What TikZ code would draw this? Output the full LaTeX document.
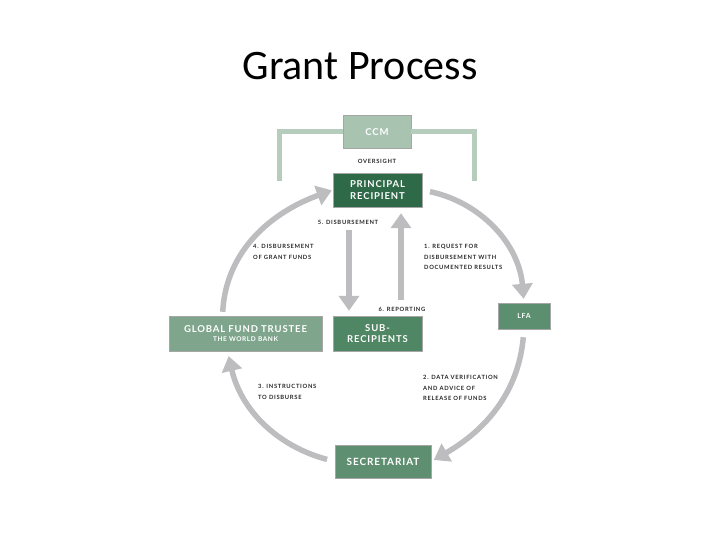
\documentclass[tikz,border=0pt]{standalone}
\usepackage{fontspec}
\usepackage{xcolor}
\usepackage{tikz}
\usetikzlibrary{shapes,arrows.meta,positioning}
\newfontfamily\titlefont{Carlito}
\newfontfamily\boxfont[LetterSpace=9]{Lato}
\newfontfamily\tagfont[LetterSpace=12]{Lato}

\definecolor{ccmgreen}{HTML}{A9C3B1}
\definecolor{prgreen}{HTML}{2E6A48}
\definecolor{trgreen}{HTML}{7FA68D}
\definecolor{subgreen}{HTML}{4F8663}
\definecolor{lfagreen}{HTML}{5B8F6F}
\definecolor{secgreen}{HTML}{5F8F71}
\definecolor{flowgray}{HTML}{BDBDC0}
\definecolor{tagdark}{HTML}{262626}

\begin{document}
\begin{tikzpicture}[x=1pt, y=-1pt,
    box/.style={rectangle, draw=black!35, line width=0.4pt, text=white, align=center, inner sep=0pt,
                font=\boxfont\bfseries\fontsize{9.5}{11.5}\selectfont},
    tag/.style={align=left, anchor=west, inner sep=0pt, text=tagdark,
                font=\tagfont\bfseries\fontsize{5.8}{10.3}\selectfont},
    flow/.style={draw=flowgray, line width=5.5pt, -{Triangle[length=15pt, width=20pt]}},
    bracket/.style={draw=ccmgreen!85, line width=5pt}
]
\useasboundingbox (0,0) rectangle (720,540);

\node[anchor=base, font=\titlefont\fontsize{42}{48}\selectfont] (title) at (360,80) {Grant Process};

% boxes
\node[box, fill=ccmgreen, minimum width=68pt, minimum height=33pt] (ccm) at (377,132) {CCM};
\node[box, fill=prgreen, minimum width=89pt, minimum height=34pt] (pr) at (377.5,190) {PRINCIPAL\\RECIPIENT};
\node[box, fill=trgreen, minimum width=153pt, minimum height=35pt] (trustee) at (245.5,333.5)
    {GLOBAL FUND TRUSTEE\\[-2pt]{\fontsize{6.5}{7.5}\selectfont THE WORLD BANK}};
\node[box, fill=subgreen, minimum width=89pt, minimum height=35pt] (sub) at (377.5,333.5) {SUB-\\RECIPIENTS};
\node[box, fill=lfagreen, minimum width=52pt, minimum height=26pt, font=\boxfont\bfseries\fontsize{7}{8}\selectfont] (lfa) at (524,316) {LFA};
\node[box, fill=secgreen, minimum width=96pt, minimum height=33pt, font=\boxfont\bfseries\fontsize{10}{12}\selectfont] (sec) at (383,461.5) {SECRETARIAT};

% oversight bracket
\coordinate (bl) at (279,181);
\coordinate (br) at (474.5,181);
\draw[bracket] (bl) |- (ccm.west);
\draw[bracket] (ccm.east) -| (br);
\node[tag, anchor=center] (oversight) at (377,161) {OVERSIGHT};

% cycle
\draw[flow, shorten <=8pt, shorten >=4pt] (pr.east) to[out=-12, in=95] (lfa.north);
\draw[flow, shorten <=8pt, shorten >=3pt] (lfa.south) to[out=-95, in=30] (sec.east);
\draw[flow, shorten <=8pt, shorten >=5pt] (sec.west) to[out=165, in=-77] ([xshift=-18pt]trustee.south);
\draw[flow, shorten <=4pt, shorten >=1pt] ([xshift=-23pt]trustee.north) to[out=87, in=200] (pr.west);

% disbursement and reporting
\draw[flow, shorten <=23pt, shorten >=5pt] ([xshift=-28.5pt]pr.south) -- ([xshift=-28.5pt]sub.north);
\draw[flow, shorten <=16pt, shorten >=6pt] ([xshift=23.5pt]sub.north) -- ([xshift=23.5pt]pr.south);

% labels
\node[tag, anchor=center] (disb) at (348,222) {5. DISBURSEMENT};
\node[tag, anchor=center] (report) at (402,309) {6. REPORTING};
\node[tag] (grant) at (253,252) {4. DISBURSEMENT\\OF GRANT FUNDS};
\node[tag] (request) at (424,257) {1. REQUEST FOR\\DISBURSEMENT WITH\\DOCUMENTED RESULTS};
\node[tag] (verify) at (423,388) {2. DATA VERIFICATION\\AND ADVICE OF\\RELEASE OF FUNDS};
\node[tag] (instruct) at (258,392) {3. INSTRUCTIONS\\TO DISBURSE};

\end{tikzpicture}
\end{document}
